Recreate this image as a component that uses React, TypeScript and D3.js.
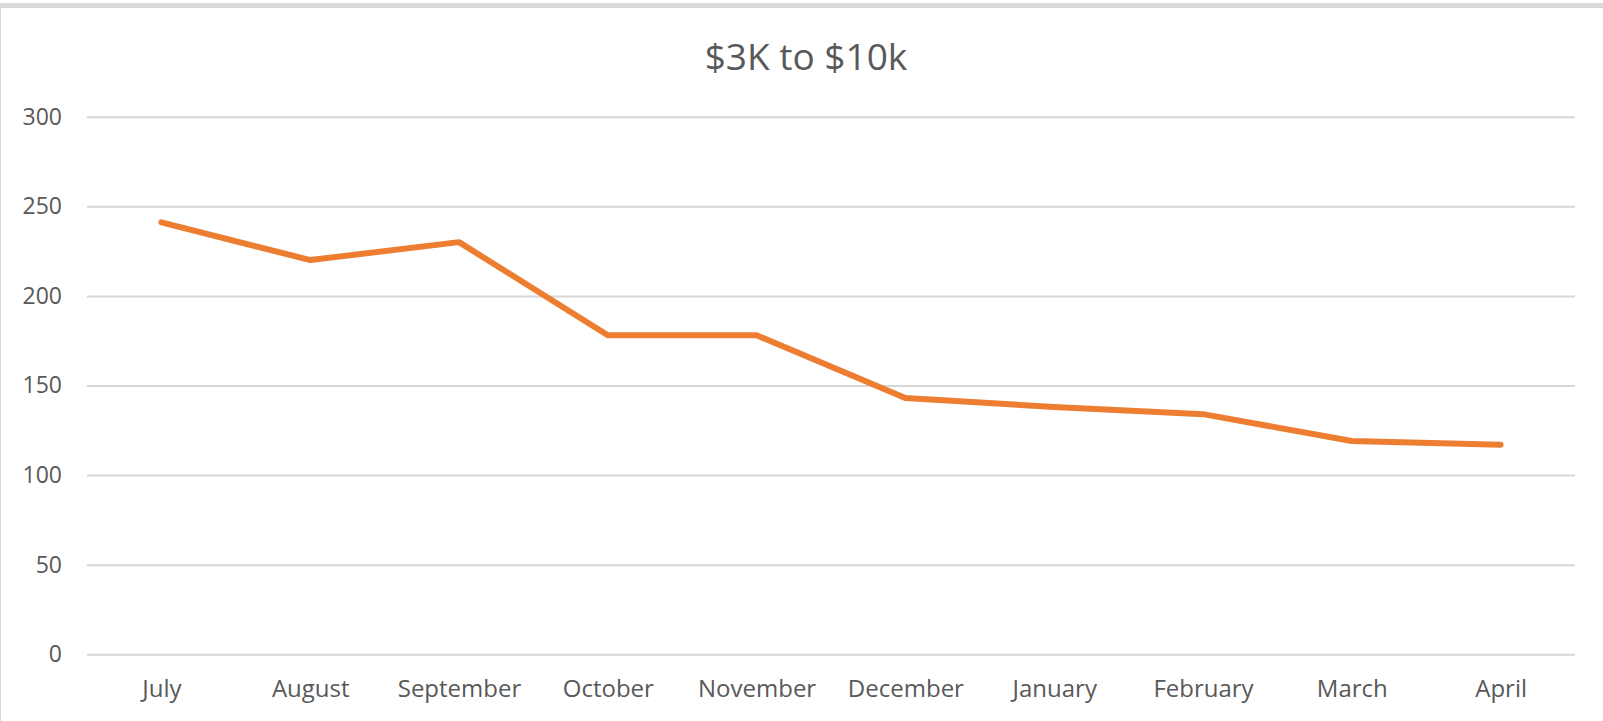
import React from 'react';
import { useRef, useEffect } from 'react';
import { select, scaleLinear, scalePoint, axisLeft, axisBottom, line } from 'd3';

const months = ['July', 'August', 'September', 'October', 'November', 'December', 'January', 'February', 'March', 'April'];
const counts = [241, 220, 230, 178, 178, 143, 138, 134, 119, 117];
const yTicks = [0, 50, 100, 150, 200, 250, 300];
const title = '$3K to $10k';

const width = 1603;
const height = 721;
const font = '"Open Sans", "Noto Sans", sans-serif';
const textColor = '#595959';

function App() {
    const svgRef = useRef();

    useEffect(() => {
        const svg = select(svgRef.current);
        svg.selectAll('*').remove();

        const xScale = scalePoint().domain(months).range([87, 1575]).padding(0.5);
        const yScale = scaleLinear().domain([0, 300]).range([654.3, 116.7]);

        // frame: grey band on top, thin line at the left
        svg.append('rect').attr('x', 0).attr('y', 3).attr('width', width).attr('height', 5).attr('fill', '#d9d9d9');
        svg.append('line').attr('x1', 0.5).attr('x2', 0.5).attr('y1', 8).attr('y2', height).attr('stroke', '#d9d9d9').attr('stroke-width', 1);

        svg.append('text')
            .attr('x', 806)
            .attr('y', 70)
            .attr('text-anchor', 'middle')
            .attr('font-family', font)
            .attr('font-size', 37)
            .attr('fill', textColor)
            .text(title);

        // gridlines + y labels
        const yAxis = axisLeft(yScale).tickValues(yTicks).tickSize(-(1575 - 87)).tickPadding(25);
        const gy = svg.append('g').attr('transform', 'translate(87,0)').call(yAxis);
        gy.select('.domain').remove();
        gy.selectAll('.tick line').attr('stroke', '#d6d6d6').attr('stroke-width', 2);
        gy.selectAll('.tick text')
            .attr('font-family', font)
            .attr('font-size', 23)
            .attr('fill', textColor);

        const xAxis = axisBottom(xScale).tickSize(0).tickPadding(26);
        const gx = svg.append('g').attr('transform', 'translate(0,654.3)').call(xAxis);
        gx.select('.domain').remove();
        gx.selectAll('.tick text')
            .attr('font-family', font)
            .attr('font-size', 24)
            .attr('fill', textColor);

        const path = line()
            .x((d, i) => xScale(months[i]))
            .y((d) => yScale(d));

        svg.append('path')
            .datum(counts)
            .attr('d', path)
            .attr('fill', 'none')
            .attr('stroke', '#ed7d31')
            .attr('stroke-width', 6)
            .attr('stroke-linecap', 'round')
            .attr('stroke-linejoin', 'round');
    }, []);

    return (
        <svg ref={svgRef} width={width} height={height}
            style={{ position: 'absolute', left: 0, top: 0, display: 'block', background: '#fff' }} />
    );
}

export default App;
